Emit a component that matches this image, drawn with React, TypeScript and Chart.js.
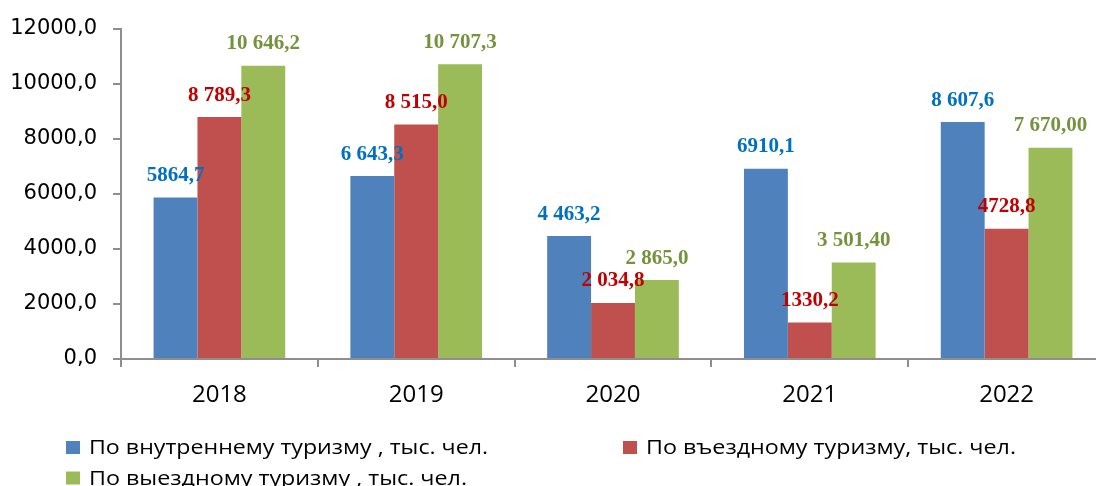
import React, { useEffect, useRef } from "react";
import { Chart, registerables } from "chart.js";

Chart.register(...registerables);

const years = ["2018", "2019", "2020", "2021", "2022"];
const domestic = [5864.7, 6643.3, 4463.2, 6910.1, 8607.6];
const inbound = [8789.3, 8515.0, 2034.8, 1330.2, 4728.8];
const outbound = [10646.2, 10707.3, 2865.0, 3501.4, 7670.0];
const domesticLabels = ["5864,7", "6 643,3", "4 463,2", "6910,1", "8 607,6"];
const inboundLabels = ["8 789,3", "8 515,0", "2 034,8", "1330,2", "4728,8"];
const outboundLabels = ["10 646,2", "10 707,3", "2 865,0", "3 501,40", "7 670,00"];
const seriesNames = [
  "По внутреннему туризму , тыс. чел.",
  "По въездному туризму, тыс. чел.",
  "По выездному туризму , тыс. чел.",
];
const yMin = 0;
const yMax = 12000;
const yStep = 2000;

const barColors = ["#4F81BD", "#C0504D", "#9BBB59"];
const labelColors = ["#0070C0", "#C00000", "#76923C"];
const axisColor = "#8E8E8E";

const valueLabelPlugin = {
  id: "valueLabels",
  afterDatasetsDraw(chart: any) {
    const ctx = chart.ctx;
    const allLabels = [domesticLabels, inboundLabels, outboundLabels];
    ctx.save();
    ctx.font = 'bold 21px "Liberation Serif", "Times New Roman", serif';
    ctx.textAlign = "center";
    ctx.textBaseline = "alphabetic";
    chart.data.datasets.forEach((_: any, i: number) => {
      const meta = chart.getDatasetMeta(i);
      ctx.fillStyle = labelColors[i];
      meta.data.forEach((bar: any, j: number) => {
        ctx.fillText(allLabels[i][j], bar.x, bar.y - 16.5);
      });
    });
    ctx.restore();
  },
};

const legendPlugin = {
  id: "customLegend",
  afterDraw(chart: any) {
    const ctx = chart.ctx;
    const items = [
      { bx: 66, by: 441, w: 399 },
      { bx: 623, by: 441, w: 370 },
      { bx: 66, by: 471.5, w: 378 },
    ];
    ctx.save();
    ctx.font = '20px "Open Sans", sans-serif';
    ctx.textBaseline = "alphabetic";
    ctx.textAlign = "left";
    items.forEach((it, i) => {
      ctx.fillStyle = chart.data.datasets[i].backgroundColor;
      ctx.fillRect(it.bx, it.by, 14, 13);
      const text = chart.data.datasets[i].label;
      const natural = ctx.measureText(text).width;
      const sx = it.w / natural;
      ctx.save();
      ctx.translate(it.bx + 23, it.by + 13);
      ctx.scale(sx, 1);
      ctx.fillStyle = "#000";
      ctx.fillText(text, 0, 0);
      ctx.restore();
    });
    ctx.restore();
  },
};

export default function App() {
  const canvasRef = useRef<HTMLCanvasElement | null>(null);

  useEffect(() => {
    if (!canvasRef.current) return;
    const chart = new Chart(canvasRef.current, {
      type: "bar",
      data: {
        labels: years,
        datasets: [
          { label: seriesNames[0], data: domestic, backgroundColor: barColors[0] },
          { label: seriesNames[1], data: inbound, backgroundColor: barColors[1] },
          { label: seriesNames[2], data: outbound, backgroundColor: barColors[2] },
        ],
      },
      options: {
        responsive: false,
        animation: false,
        devicePixelRatio: 1,
        layout: { padding: { top: 27, right: 5, bottom: 81, left: 0 } },
        datasets: {
          bar: { categoryPercentage: 0.669, barPercentage: 1, borderWidth: 0 },
        },
        plugins: {
          legend: { display: false },
          tooltip: { enabled: false },
        },
        scales: {
          x: {
            grid: {
              display: true,
              drawOnChartArea: false,
              drawTicks: true,
              tickLength: 8,
              color: axisColor,
              lineWidth: 2,
              offset: true,
            },
            border: { display: true, color: axisColor, width: 2 },
            ticks: {
              color: "#000",
              font: { family: '"Open Sans", sans-serif', size: 24 },
              padding: 14,
              maxRotation: 0,
            },
            afterFit: (s: any) => {
              s.height = 60;
            },
          },
          y: {
            min: yMin,
            max: yMax,
            grid: {
              display: true,
              drawOnChartArea: false,
              drawTicks: true,
              tickLength: 8,
              color: axisColor,
              lineWidth: 2,
            },
            border: { display: true, color: axisColor, width: 2 },
            ticks: {
              stepSize: yStep,
              color: "#000",
              font: { family: '"DejaVu Sans", sans-serif', size: 21 },
              padding: 16,
              callback: (v: any) => Number(v).toFixed(1).replace(".", ","),
            },
            afterFit: (s: any) => {
              s.width = 121;
            },
          },
        },
      },
      plugins: [valueLabelPlugin, legendPlugin],
    });
    return () => chart.destroy();
  }, []);

  return (
    <div
      style={{
        position: "fixed",
        left: 0,
        top: 0,
        width: 1096,
        height: 486,
        overflow: "hidden",
        background: "#fff",
      }}
    >
      <canvas ref={canvasRef} width={1110} height={500} style={{ display: "block" }} />
    </div>
  );
}
